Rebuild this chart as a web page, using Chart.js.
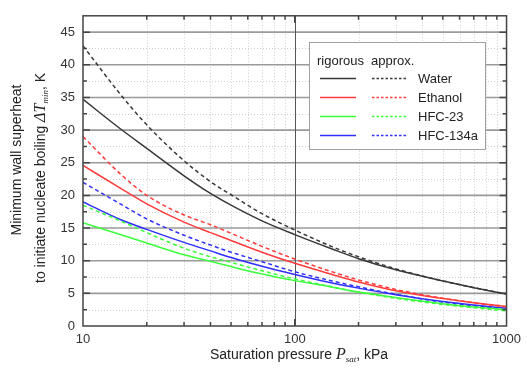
<!DOCTYPE html>
<html lang="en">
  <head>
    <meta charset="UTF-8" />
    <title>Minimum wall superheat</title>
    <script src="https://cdn.jsdelivr.net/npm/chart.js"></script>
    <style>
      html, body { margin: 0; padding: 0; background: #fff; }
      #wrap { width: 527px; height: 379px; }
    </style>
  </head>
  <body>
    <div id="wrap"><canvas id="superheatChart" width="527" height="379"></canvas></div>

    <script>
      // saturation pressure, kPa
      const pressure = [10, 15, 20, 30, 40, 50, 70, 100, 150, 200, 300, 500, 700, 1000];

      // rigorous / approx. curves, K
      const waterRig = [34.7, 30.2, 27.2, 23.0, 20.3, 18.5, 16.1, 14.0, 11.8, 10.3, 8.6, 6.9, 5.85, 4.9];
      const waterApp = [42.9, 35.5, 30.8, 25.3, 22.1, 20.1, 17.2, 14.7, 12.15, 10.6, 8.75, 6.9, 5.88, 4.9];
      const ethanolRig = [24.6, 21.1, 18.7, 15.9, 14.3, 13.1, 11.3, 9.6, 7.9, 6.75, 5.4, 4.2, 3.55, 3.0];
      const ethanolApp = [29.0, 23.3, 20.0, 17.0, 15.5, 14.2, 12.2, 10.25, 8.3, 7.05, 5.6, 4.25, 3.55, 2.9];
      const hfc23Rig = [15.8, 14.0, 12.7, 10.9, 9.9, 9.1, 7.95, 6.95, 5.95, 5.2, 4.35, 3.4, 2.9, 2.5];
      const hfc23App = [18.5, 16.1, 14.3, 11.9, 10.6, 9.75, 8.45, 7.2, 6.0, 5.2, 4.25, 3.3, 2.8, 2.3];
      const hfc134aRig = [19.0, 16.3, 14.8, 12.8, 11.5, 10.5, 9.15, 7.9, 6.6, 5.8, 4.8, 3.75, 3.2, 2.7];
      const hfc134aApp = [22.0, 18.7, 16.4, 13.9, 12.4, 11.3, 9.85, 8.3, 6.9, 6.0, 4.85, 3.65, 3.1, 2.6];

      const fluids = ["Water", "Ethanol", "HFC-23", "HFC-134a"];
      const colors = ["#383838", "#ff3b3b", "#3bff3b", "#2f2fff"];

      const xTickLabels = [10, 100, 1000];
      const yTickLabels = [0, 5, 10, 15, 20, 25, 30, 35, 40, 45];

      const toPoints = (arr) => pressure.map((p, i) => ({ x: p, y: arr[i] }));

      const pairs = [
        [waterRig, waterApp],
        [ethanolRig, ethanolApp],
        [hfc23Rig, hfc23App],
        [hfc134aRig, hfc134aApp],
      ];

      const datasets = [];
      pairs.forEach(([rig, app], i) => {
        datasets.push({
          label: fluids[i] + " rigorous",
          data: toPoints(rig),
          borderColor: colors[i],
          borderWidth: 1.5,
          pointRadius: 0,
          cubicInterpolationMode: "monotone",
        });
        datasets.push({
          label: fluids[i] + " approx.",
          data: toPoints(app),
          borderColor: colors[i],
          borderWidth: 1.5,
          borderDash: [4, 3],
          pointRadius: 0,
          cubicInterpolationMode: "monotone",
        });
      });

      // draw mixed-style text runs; parts: [text, font, dy]
      function drawRich(ctx, parts, x, y) {
        let total = 0;
        parts.forEach((p) => {
          ctx.font = p[1];
          total += ctx.measureText(p[0]).width;
        });
        let cx = x - total / 2;
        parts.forEach((p) => {
          ctx.font = p[1];
          ctx.fillText(p[0], cx, y + (p[2] || 0));
          cx += ctx.measureText(p[0]).width;
        });
      }

      const frame = {
        id: "frame",
        beforeDatasetsDraw(chart) {
          const { ctx, chartArea: a, scales } = chart;
          const xs = scales.x, ys = scales.y;
          ctx.save();
          // minor dotted grid
          ctx.strokeStyle = "#cfcfcf";
          ctx.lineWidth = 1;
          ctx.setLineDash([1, 2]);
          const minorX = [20, 30, 40, 50, 60, 70, 80, 90, 200, 300, 400, 500, 600, 700, 800, 900];
          minorX.forEach((v) => {
            const px = Math.round(xs.getPixelForValue(v)) + 0.5;
            ctx.beginPath(); ctx.moveTo(px, a.top); ctx.lineTo(px, a.bottom); ctx.stroke();
          });
          for (let v = 2.5; v < 47.5; v += 5) {
            const py = Math.round(ys.getPixelForValue(v)) + 0.5;
            ctx.beginPath(); ctx.moveTo(a.left, py); ctx.lineTo(a.right, py); ctx.stroke();
          }
          ctx.setLineDash([]);
          // major grid
          ctx.strokeStyle = "#9a9a9a";
          ctx.lineWidth = 1.6;
          for (let v = 5; v <= 45; v += 5) {
            const py = ys.getPixelForValue(v);
            ctx.beginPath(); ctx.moveTo(a.left, py); ctx.lineTo(a.right, py); ctx.stroke();
          }
          ctx.strokeStyle = "#555";
          ctx.lineWidth = 1;
          const p100 = Math.round(xs.getPixelForValue(100)) + 0.5;
          ctx.beginPath(); ctx.moveTo(p100, a.top); ctx.lineTo(p100, a.bottom); ctx.stroke();
          ctx.restore();
        },
        afterDatasetsDraw(chart) {
          const { ctx, chartArea: a, scales } = chart;
          const xs = scales.x, ys = scales.y;
          ctx.save();
          ctx.strokeStyle = "#444";
          ctx.lineWidth = 1.5;
          // ticks inward on all four sides
          for (let v = 2.5; v < 47.5; v += 2.5) {
            const py = ys.getPixelForValue(v);
            const len = v % 5 === 0 ? 7 : 4;
            ctx.beginPath();
            ctx.moveTo(a.left, py); ctx.lineTo(a.left + len, py);
            ctx.moveTo(a.right, py); ctx.lineTo(a.right - len, py);
            ctx.stroke();
          }
          [20, 30, 40, 50, 60, 70, 80, 90, 100, 200, 300, 400, 500, 600, 700, 800, 900].forEach((v) => {
            const px = xs.getPixelForValue(v);
            const len = v === 100 ? 7 : 4;
            ctx.beginPath();
            ctx.moveTo(px, a.bottom); ctx.lineTo(px, a.bottom - len);
            ctx.moveTo(px, a.top); ctx.lineTo(px, a.top + len);
            ctx.stroke();
          });
          ctx.strokeRect(a.left, a.top, a.right - a.left, a.bottom - a.top);
          ctx.restore();
        },
        afterDraw(chart) {
          const { ctx } = chart;
          ctx.save();
          ctx.fillStyle = "#222";
          ctx.textBaseline = "alphabetic";
          const sans = "14px 'Liberation Sans', Arial, sans-serif";
          const serifIt = "italic 16px 'Liberation Serif', 'Times New Roman', serif";
          const subIt = "italic 9px 'Liberation Serif', 'Times New Roman', serif";

          // x axis title
          drawRich(ctx, [
            ["Saturation pressure ", sans],
            ["P", serifIt],
            ["sat", subIt, 3],
            [", kPa", sans],
          ], 299, 359);

          // y axis title, two rotated lines
          ctx.save();
          ctx.translate(21, 160);
          ctx.rotate(-Math.PI / 2);
          drawRich(ctx, [["Minimum wall superheat", sans]], 0, 0);
          ctx.restore();
          ctx.save();
          ctx.translate(45, 178);
          ctx.rotate(-Math.PI / 2);
          drawRich(ctx, [
            ["to initiate nucleate boiling ", sans],
            ["\u0394T", serifIt],
            ["min", subIt, 3],
            [", K", sans],
          ], 0, 0);
          ctx.restore();

          // legend box
          const bx = 309, by = 42, bw = 176, bh = 107;
          ctx.fillStyle = "#fff";
          ctx.fillRect(bx, by, bw, bh);
          ctx.strokeStyle = "#a0a0a0";
          ctx.lineWidth = 1;
          ctx.strokeRect(bx + 0.5, by + 0.5, bw, bh);
          ctx.fillStyle = "#222";
          ctx.font = "13px 'Liberation Sans', Arial, sans-serif";
          ctx.textBaseline = "middle";
          ctx.fillText("rigorous", 317, 61);
          ctx.fillText("approx.", 371, 61);
          const rowY = [78, 97, 116, 135];
          fluids.forEach((name, i) => {
            const y = rowY[i] + 0.5;
            ctx.strokeStyle = colors[i];
            ctx.lineWidth = 1.5;
            ctx.setLineDash([]);
            ctx.beginPath(); ctx.moveTo(320, y); ctx.lineTo(356, y); ctx.stroke();
            ctx.setLineDash([2.5, 2]);
            ctx.beginPath(); ctx.moveTo(372, y); ctx.lineTo(408, y); ctx.stroke();
            ctx.setLineDash([]);
            ctx.fillStyle = "#222";
            ctx.fillText(name, 418, rowY[i] + 1);
          });
          ctx.restore();
        },
      };

      const ctx = document.getElementById("superheatChart").getContext("2d");
      new Chart(ctx, {
        type: "line",
        data: { datasets: datasets },
        options: {
          responsive: false,
          animation: false,
          layout: { padding: { top: 7, right: 12, left: 0, bottom: 0 } },
          plugins: { legend: { display: false }, tooltip: { enabled: false } },
          scales: {
            x: {
              type: "logarithmic",
              min: 10,
              max: 1000,
              grid: { display: false, drawTicks: false },
              border: { display: false },
              afterBuildTicks: (s) => {
                s.ticks = xTickLabels.map((v) => ({ value: v }));
              },
              afterFit: (s) => { s.height = 53; },
              ticks: {
                autoSkip: false,
                maxRotation: 0,
                padding: 6,
                color: "#333",
                font: { family: "'Liberation Sans', Arial, sans-serif", size: 13 },
                callback: (v) => String(v),
              },
            },
            y: {
              type: "linear",
              min: 0,
              max: 47.5,
              grid: { display: false, drawTicks: false },
              border: { display: false },
              afterBuildTicks: (s) => {
                s.ticks = yTickLabels.map((v) => ({ value: v }));
              },
              afterFit: (s) => { s.width = 83; },
              ticks: {
                padding: 8,
                color: "#333",
                font: { family: "'Liberation Sans', Arial, sans-serif", size: 13 },
              },
            },
          },
        },
        plugins: [frame],
      });
    </script>
  </body>
</html>
